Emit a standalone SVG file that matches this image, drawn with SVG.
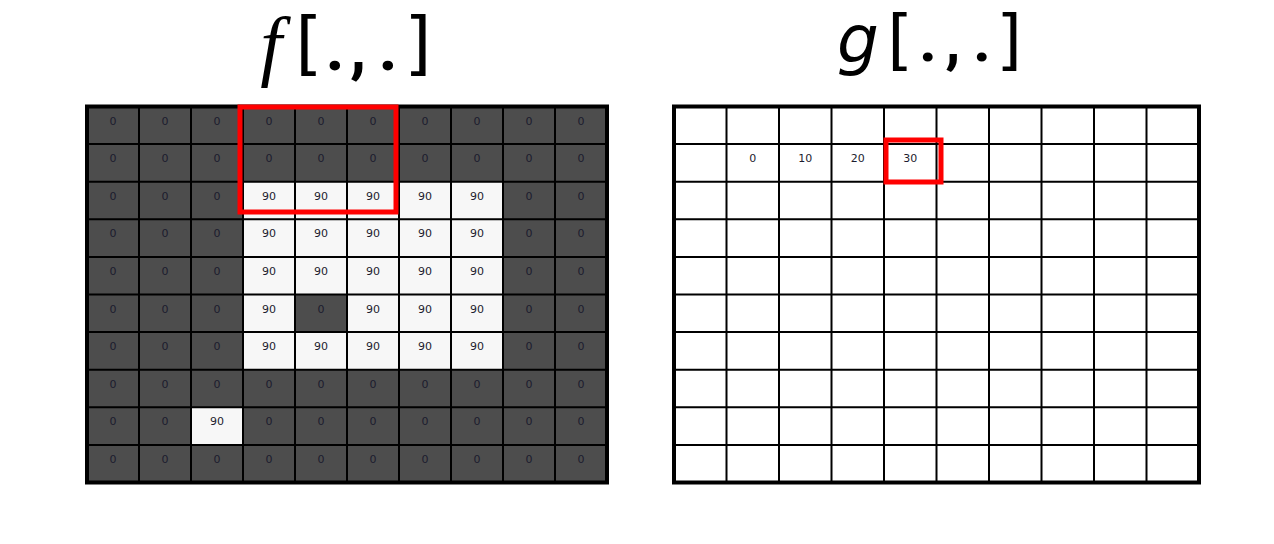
<svg xmlns="http://www.w3.org/2000/svg" width="1274" height="544" viewBox="0 0 1274 544">
<style>
.title{font-family:"DejaVu Sans",sans-serif;font-size:70px;fill:#000;text-anchor:middle}
.dot{font-family:Roboto,"DejaVu Sans",sans-serif;font-weight:bold}
.n{font-family:"DejaVu Sans","Liberation Sans",sans-serif;font-size:11px;fill:#1c1c2e;text-anchor:middle}
.gl{stroke:#000;stroke-width:2;fill:none}
.ob{stroke:#000;stroke-width:4;fill:none}
.sel{stroke:#f00;stroke-width:5;fill:none}
</style>
<rect width="1274" height="544" fill="#fff"/>
<g id="f-title">
<text class="title"><tspan x="271" y="71" style="font-family:'Liberation Serif',serif;font-style:italic;font-size:78px">f</tspan><tspan x="309" y="67">[</tspan><tspan class="dot" x="335 358 388" y="70" style="font-size:66px">.,.</tspan><tspan x="418" y="67">]</tspan></text>
</g>
<g id="g-title">
<text class="title" style="font-size:66px"><tspan x="858" y="62" style="font-style:italic">g</tspan><tspan x="900" y="62">[</tspan><tspan class="dot" x="928 953 982" y="61" style="font-size:62px">.,.</tspan><tspan x="1009" y="62">]</tspan></text>
</g>
<g id="f-grid">
<rect x="87" y="106.5" width="520" height="376" fill="#4d4d4d"/>
<rect x="243" y="181.7" width="260" height="188" fill="#f7f7f7"/>
<rect x="295" y="294.5" width="52" height="37.6" fill="#4d4d4d"/>
<rect x="191" y="407.3" width="52" height="37.6" fill="#f7f7f7"/>
<path class="gl" d="M139 106.5V482.5M191 106.5V482.5M243 106.5V482.5M295 106.5V482.5M347 106.5V482.5M399 106.5V482.5M451 106.5V482.5M503 106.5V482.5M555 106.5V482.5M87 144.1H607M87 181.7H607M87 219.3H607M87 256.9H607M87 294.5H607M87 332.1H607M87 369.7H607M87 407.3H607M87 444.9H607"/>
<rect class="ob" x="87" y="106.5" width="520" height="376"/>
<g id="f-values">
<text class="n" x="113" y="124.5">0</text><text class="n" x="165" y="124.5">0</text><text class="n" x="217" y="124.5">0</text><text class="n" x="269" y="124.5">0</text><text class="n" x="321" y="124.5">0</text><text class="n" x="373" y="124.5">0</text><text class="n" x="425" y="124.5">0</text><text class="n" x="477" y="124.5">0</text><text class="n" x="529" y="124.5">0</text><text class="n" x="581" y="124.5">0</text>
<text class="n" x="113" y="162.1">0</text><text class="n" x="165" y="162.1">0</text><text class="n" x="217" y="162.1">0</text><text class="n" x="269" y="162.1">0</text><text class="n" x="321" y="162.1">0</text><text class="n" x="373" y="162.1">0</text><text class="n" x="425" y="162.1">0</text><text class="n" x="477" y="162.1">0</text><text class="n" x="529" y="162.1">0</text><text class="n" x="581" y="162.1">0</text>
<text class="n" x="113" y="199.7">0</text><text class="n" x="165" y="199.7">0</text><text class="n" x="217" y="199.7">0</text><text class="n" x="269" y="199.7">90</text><text class="n" x="321" y="199.7">90</text><text class="n" x="373" y="199.7">90</text><text class="n" x="425" y="199.7">90</text><text class="n" x="477" y="199.7">90</text><text class="n" x="529" y="199.7">0</text><text class="n" x="581" y="199.7">0</text>
<text class="n" x="113" y="237.3">0</text><text class="n" x="165" y="237.3">0</text><text class="n" x="217" y="237.3">0</text><text class="n" x="269" y="237.3">90</text><text class="n" x="321" y="237.3">90</text><text class="n" x="373" y="237.3">90</text><text class="n" x="425" y="237.3">90</text><text class="n" x="477" y="237.3">90</text><text class="n" x="529" y="237.3">0</text><text class="n" x="581" y="237.3">0</text>
<text class="n" x="113" y="274.9">0</text><text class="n" x="165" y="274.9">0</text><text class="n" x="217" y="274.9">0</text><text class="n" x="269" y="274.9">90</text><text class="n" x="321" y="274.9">90</text><text class="n" x="373" y="274.9">90</text><text class="n" x="425" y="274.9">90</text><text class="n" x="477" y="274.9">90</text><text class="n" x="529" y="274.9">0</text><text class="n" x="581" y="274.9">0</text>
<text class="n" x="113" y="312.5">0</text><text class="n" x="165" y="312.5">0</text><text class="n" x="217" y="312.5">0</text><text class="n" x="269" y="312.5">90</text><text class="n" x="321" y="312.5">0</text><text class="n" x="373" y="312.5">90</text><text class="n" x="425" y="312.5">90</text><text class="n" x="477" y="312.5">90</text><text class="n" x="529" y="312.5">0</text><text class="n" x="581" y="312.5">0</text>
<text class="n" x="113" y="350.1">0</text><text class="n" x="165" y="350.1">0</text><text class="n" x="217" y="350.1">0</text><text class="n" x="269" y="350.1">90</text><text class="n" x="321" y="350.1">90</text><text class="n" x="373" y="350.1">90</text><text class="n" x="425" y="350.1">90</text><text class="n" x="477" y="350.1">90</text><text class="n" x="529" y="350.1">0</text><text class="n" x="581" y="350.1">0</text>
<text class="n" x="113" y="387.7">0</text><text class="n" x="165" y="387.7">0</text><text class="n" x="217" y="387.7">0</text><text class="n" x="269" y="387.7">0</text><text class="n" x="321" y="387.7">0</text><text class="n" x="373" y="387.7">0</text><text class="n" x="425" y="387.7">0</text><text class="n" x="477" y="387.7">0</text><text class="n" x="529" y="387.7">0</text><text class="n" x="581" y="387.7">0</text>
<text class="n" x="113" y="425.3">0</text><text class="n" x="165" y="425.3">0</text><text class="n" x="217" y="425.3">90</text><text class="n" x="269" y="425.3">0</text><text class="n" x="321" y="425.3">0</text><text class="n" x="373" y="425.3">0</text><text class="n" x="425" y="425.3">0</text><text class="n" x="477" y="425.3">0</text><text class="n" x="529" y="425.3">0</text><text class="n" x="581" y="425.3">0</text>
<text class="n" x="113" y="462.9">0</text><text class="n" x="165" y="462.9">0</text><text class="n" x="217" y="462.9">0</text><text class="n" x="269" y="462.9">0</text><text class="n" x="321" y="462.9">0</text><text class="n" x="373" y="462.9">0</text><text class="n" x="425" y="462.9">0</text><text class="n" x="477" y="462.9">0</text><text class="n" x="529" y="462.9">0</text><text class="n" x="581" y="462.9">0</text>
</g>
<rect id="f-window" class="sel" x="240" y="107" width="156" height="105"/>
</g>
<g id="g-grid">
<rect x="674" y="106.5" width="525" height="376" fill="#fff"/>
<path class="gl" d="M726.5 106.5V482.5M779 106.5V482.5M831.5 106.5V482.5M884 106.5V482.5M936.5 106.5V482.5M989 106.5V482.5M1041.5 106.5V482.5M1094 106.5V482.5M1146.5 106.5V482.5M674 144.1H1199M674 181.7H1199M674 219.3H1199M674 256.9H1199M674 294.5H1199M674 332.1H1199M674 369.7H1199M674 407.3H1199M674 444.9H1199"/>
<rect class="ob" x="674" y="106.5" width="525" height="376"/>
<g id="g-values">
<text class="n" x="752.75" y="161.5">0</text>
<text class="n" x="805.25" y="161.5">10</text>
<text class="n" x="857.75" y="161.5">20</text>
<text class="n" x="910.25" y="161.5">30</text>
</g>
<rect id="g-window" class="sel" x="886" y="140" width="55" height="42"/>
</g>
</svg>
